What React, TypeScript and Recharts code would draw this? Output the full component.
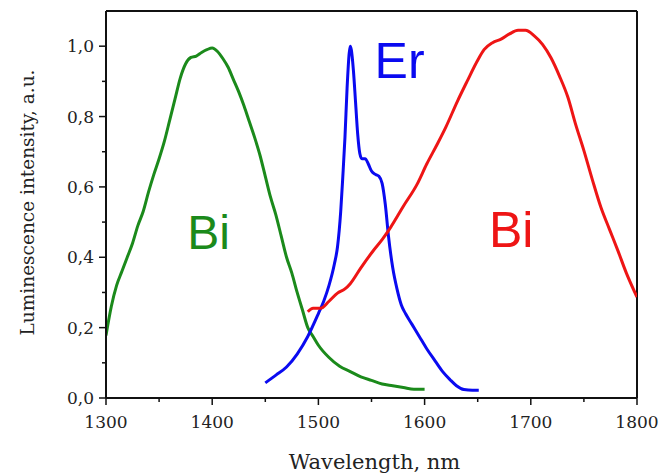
import React from 'react';
import { LineChart, Line, XAxis, YAxis, ReferenceLine, ReferenceDot } from 'recharts';

const greenX = [1300,1305,1310,1315,1320,1325,1330,1335,1340,1345,1350,1355,1360,1365,1370,1375,1380,1385,1390,1395,1400,1405,1410,1415,1420,1425,1430,1435,1440,1445,1450,1455,1460,1465,1470,1475,1480,1485,1490,1495,1500,1510,1520,1530,1540,1550,1560,1570,1580,1590,1600];
const greenY = [0.178,0.26,0.32,0.36,0.40,0.44,0.49,0.53,0.585,0.635,0.68,0.73,0.79,0.85,0.91,0.95,0.968,0.972,0.982,0.99,0.995,0.985,0.965,0.94,0.905,0.87,0.83,0.785,0.74,0.69,0.63,0.57,0.52,0.46,0.40,0.355,0.30,0.25,0.20,0.175,0.15,0.115,0.09,0.075,0.06,0.05,0.04,0.035,0.03,0.025,0.025];

const blueX = [1450,1460,1470,1480,1490,1500,1505,1510,1515,1518,1521,1523,1525,1527,1529,1530,1531,1533,1535,1537,1539,1541,1544,1547,1550,1554,1557,1560,1563,1566,1570,1574,1578,1582,1588,1595,1602,1610,1617,1624,1630,1637,1645,1651];
const blueY = [0.043,0.065,0.088,0.125,0.175,0.24,0.275,0.32,0.38,0.43,0.53,0.63,0.74,0.88,0.98,1.0,0.99,0.93,0.84,0.75,0.695,0.68,0.68,0.665,0.645,0.635,0.63,0.61,0.55,0.46,0.37,0.31,0.265,0.24,0.21,0.175,0.14,0.105,0.075,0.052,0.035,0.024,0.022,0.022];

const redX = [1490,1495,1502,1510,1518,1525,1530,1540,1552,1560,1568,1580,1593,1602,1612,1620,1631,1640,1650,1656,1664,1672,1680,1688,1695,1703,1711,1719,1727,1735,1742,1750,1758,1766,1774,1782,1790,1800];
const redY = [0.245,0.255,0.255,0.275,0.298,0.31,0.325,0.37,0.42,0.45,0.485,0.545,0.608,0.665,0.722,0.77,0.844,0.9,0.96,0.99,1.01,1.02,1.035,1.045,1.045,1.03,1.005,0.967,0.915,0.854,0.78,0.703,0.62,0.542,0.48,0.419,0.355,0.287];

const xTicks = [1300,1350,1400,1450,1500,1550,1600,1650,1700,1750,1800];
const xMajor = [1300,1400,1500,1600,1700,1800];
const yTicks = [0,0.1,0.2,0.3,0.4,0.5,0.6,0.7,0.8,0.9,1.0];
const yMajor = [0,0.2,0.4,0.6,0.8,1.0];

const zip = (xs: number[], ys: number[]) => xs.map((x, i) => ({ x, y: ys[i] }));
const greenData = zip(greenX, greenY);
const blueData = zip(blueX, blueY);
const redData = zip(redX, redY);

const GREEN = '#1b8a1b';
const BLUE = '#0a0af0';
const RED = '#ee1515';
const AXIS = '#111';
const SERIF = '"DejaVu Serif", serif';

const isMajor = (v: number, arr: number[]) => arr.some((m) => Math.abs(m - v) < 1e-6);

const XTick = (props: any) => {
  const { x, y, payload } = props;
  const major = isMajor(payload.value, xMajor);
  return (
    <g>
      <line x1={x} y1={y} x2={x} y2={y + (major ? 7 : 4)} stroke={AXIS} strokeWidth={1.5} />
      {major && (
        <text x={x} y={y + 30} textAnchor="middle" fontFamily={SERIF} fontSize={17} fill="#222">
          {payload.value}
        </text>
      )}
    </g>
  );
};

const YTick = (props: any) => {
  const { x, y, payload } = props;
  const major = isMajor(payload.value, yMajor);
  return (
    <g>
      <line x1={x} y1={y} x2={x - (major ? 7 : 4)} y2={y} stroke={AXIS} strokeWidth={1.5} />
      {major && (
        <text x={x - 12} y={y} dy="0.36em" textAnchor="end" fontFamily={SERIF} fontSize={17} fill="#222">
          {payload.value.toFixed(1).replace('.', ',')}
        </text>
      )}
    </g>
  );
};

const XLabel = (props: any) => {
  const vb = props.viewBox || { x: 0, y: 0, width: 0, height: 0 };
  return (
    <text x={vb.x + vb.width / 2 + 3} y={vb.y + 71} textAnchor="middle" fontFamily={SERIF} fontSize={21} fill="#222">
      Wavelength, nm
    </text>
  );
};

const YLabel = (props: any) => {
  const vb = props.viewBox || { x: 0, y: 0, width: 0, height: 0 };
  const cx = 27;
  const cy = vb.y + vb.height / 2 - 2;
  return (
    <text x={cx} y={cy} dy="0.36em" transform={`rotate(-90 ${cx} ${cy})`} textAnchor="middle" fontFamily={SERIF} fontSize={18.5} fill="#222">
      Luminescence intensity, a.u.
    </text>
  );
};

const SANS = '"Liberation Sans", Arial, sans-serif';

export default function App() {
  return (
    <div style={{ position: 'absolute', left: 0, top: 0, width: 671, height: 474, background: '#fff' }}>
      <LineChart width={671} height={474} margin={{ top: 11, right: 34, bottom: 0, left: 0 }}>
        <XAxis
          dataKey="x"
          type="number"
          domain={[1300, 1800]}
          ticks={xTicks}
          interval={0}
          tickSize={0}
          tickMargin={0}
          tickLine={false}
          height={76}
          axisLine={{ stroke: AXIS, strokeWidth: 2 }}
          tick={<XTick />}
          label={<XLabel />}
          allowDataOverflow
        />
        <YAxis
          dataKey="y"
          type="number"
          domain={[0, 1.1]}
          ticks={yTicks}
          interval={0}
          tickSize={0}
          tickMargin={0}
          tickLine={false}
          width={106}
          axisLine={{ stroke: AXIS, strokeWidth: 2 }}
          tick={<YTick />}
          label={<YLabel />}
          allowDataOverflow
        />
        <ReferenceLine y={1.1} stroke={AXIS} strokeWidth={2} />
        <ReferenceLine x={1800} stroke={AXIS} strokeWidth={2} />
        <Line data={greenData} dataKey="y" type="monotone" stroke={GREEN} strokeWidth={3} dot={false} isAnimationActive={false} />
        <Line data={blueData} dataKey="y" type="monotone" stroke={BLUE} strokeWidth={3} dot={false} isAnimationActive={false} />
        <Line data={redData} dataKey="y" type="monotone" stroke={RED} strokeWidth={3} dot={false} isAnimationActive={false} />
        <ReferenceDot x={1396.7} y={0.473} r={0} fill="none" stroke="none"
          label={{ value: 'Bi', position: 'center', fill: GREEN, fontSize: 48, fontFamily: SANS }} />
        <ReferenceDot x={1576.4} y={0.959} r={0} fill="none" stroke="none"
          label={{ value: 'Er', position: 'center', fill: BLUE, fontSize: 50, fontFamily: SANS }} />
        <ReferenceDot x={1681.6} y={0.479} r={0} fill="none" stroke="none"
          label={{ value: 'Bi', position: 'center', fill: RED, fontSize: 50, fontFamily: SANS }} />
      </LineChart>
    </div>
  );
}
